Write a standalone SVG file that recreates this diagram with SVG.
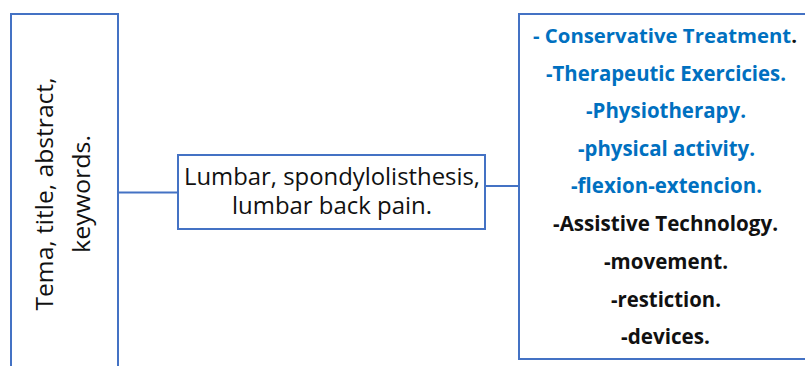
<svg xmlns="http://www.w3.org/2000/svg" width="805" height="366" viewBox="0 0 805 366">
<style>
.box{fill:#fff;stroke:#4472C4;stroke-width:2}
.conn{stroke:#4472C4;stroke-width:2;fill:none}
.reg{font-family:"Open Sans","Noto Sans",sans-serif;fill:#111}
.b{font-family:"Open Sans","Noto Sans",sans-serif;font-weight:bold;font-size:21px;text-anchor:middle;fill:#111}
.blue{fill:#0070C0}
</style>
<rect width="805" height="366" fill="#fff"/>
<g id="connectors">
<line class="conn" x1="118" y1="192.5" x2="178" y2="192.5"/>
<line class="conn" x1="485" y1="186" x2="519" y2="186"/>
</g>
<g id="node-left">
<rect class="box" x="11" y="14" width="107" height="370"/>
<text class="reg" font-size="24" text-anchor="middle" transform="translate(53,194) rotate(-90)" textLength="233" lengthAdjust="spacingAndGlyphs">Tema, title, abstract,</text>
<text class="reg" font-size="24" text-anchor="middle" transform="translate(90,194) rotate(-90)" textLength="118" lengthAdjust="spacingAndGlyphs">keywords.</text>
</g>
<g id="node-middle">
<rect class="box" x="178" y="155" width="307" height="74"/>
<text class="reg" font-size="23" x="332" y="185" text-anchor="middle" textLength="296" lengthAdjust="spacingAndGlyphs">Lumbar, spondylolisthesis,</text>
<text class="reg" font-size="23" x="332" y="214" text-anchor="middle" textLength="200" lengthAdjust="spacingAndGlyphs">lumbar back pain.</text>
</g>
<g id="node-right">
<rect class="box" x="519" y="14" width="300" height="345"/>
<text class="b" x="665" y="43" style="font-size:20px" textLength="264" lengthAdjust="spacingAndGlyphs"><tspan class="blue">- Conservative Treatment</tspan>.</text>
<text class="b blue" x="666" y="80.5" textLength="240" lengthAdjust="spacingAndGlyphs">-Therapeutic Exercicies.</text>
<text class="b blue" x="666" y="118" textLength="160" lengthAdjust="spacingAndGlyphs">-Physiotherapy.</text>
<text class="b blue" x="666.5" y="156" textLength="177" lengthAdjust="spacingAndGlyphs">-physical activity.</text>
<text class="b blue" x="666.5" y="193" textLength="191" lengthAdjust="spacingAndGlyphs">-flexion-extencion.</text>
<text class="b" x="665.5" y="231" textLength="225" lengthAdjust="spacingAndGlyphs">-Assistive Technology.</text>
<text class="b" x="666" y="269" textLength="124" lengthAdjust="spacingAndGlyphs">-movement.</text>
<text class="b" x="666" y="307" textLength="110" lengthAdjust="spacingAndGlyphs">-restiction.</text>
<text class="b" x="665.5" y="344" textLength="89" lengthAdjust="spacingAndGlyphs">-devices.</text>
</g>
</svg>
